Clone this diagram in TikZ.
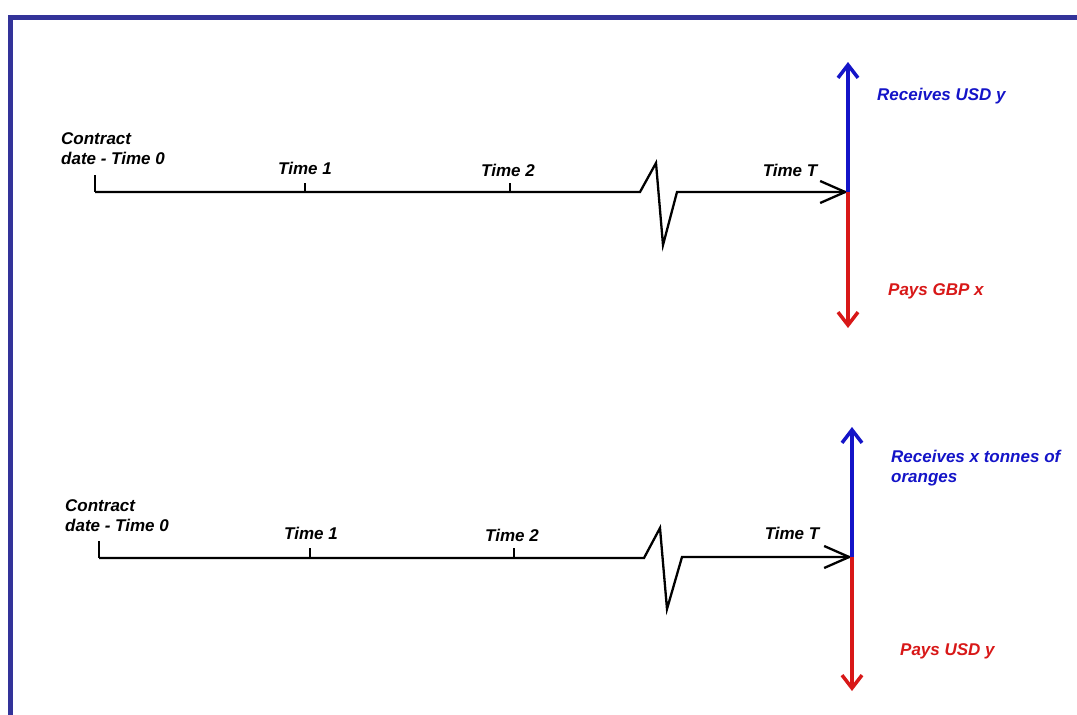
\documentclass[tikz,border=0pt]{standalone}
\usepackage{fontspec}
\setmainfont{Liberation Sans}
\usetikzlibrary{arrows.meta}
\definecolor{frameblue}{HTML}{333399}
\definecolor{posblue}{HTML}{1414C8}
\definecolor{negred}{HTML}{D81818}
\begin{document}
\begin{tikzpicture}[x=1pt,y=-1pt,
  lbl/.style={font=\fontsize{17}{20}\selectfont\bfseries\itshape, inner sep=0pt},
  timeline/.style={line width=2.3pt, line join=miter},
  ticks/.style={line width=1.2pt},
  endarrow/.style={-{Straight Barb[length=25pt,width=22pt,line width=2.3pt]}},
  cash/.style={line width=3.5pt, -{Straight Barb[length=13pt,width=20pt,line width=3.5pt]}}]
\useasboundingbox (0,0) rectangle (1077,715);
\fill[white] (0,0) rectangle (1077,715);
% frame
\fill[frameblue] (8,15) rectangle (1077,20);
\fill[frameblue] (8,15) rectangle (13,715);

% ---------- top timeline ----------
\coordinate (a0t) at (95,175);
\coordinate (a0) at (95,192);
\coordinate (a1t) at (305,183);
\coordinate (a1) at (305,192);
\coordinate (a2t) at (510,183);
\coordinate (a2) at (510,192);
\coordinate (az1) at (640,192);
\coordinate (az2) at (656,163);
\coordinate (az3) at (663,245);
\coordinate (az4) at (677,192);
\coordinate (aT) at (848,192);
\coordinate (aup) at (848,62);
\coordinate (adn) at (848,328);

\draw[ticks] (a0t) -- (a0);
\draw[ticks] (a1t) -- (a1);
\draw[ticks] (a2t) -- (a2);
\draw[timeline] (a0) -- (az1) -- (az2) -- (az3) -- (az4) -- (aT);
\draw[timeline, endarrow] (az4) -- (aT);
\draw[cash, posblue] (aT) -- (aup);
\draw[cash, negred] (aT) -- (adn);

\node[lbl, anchor=west, align=left] (ac) at (61,149) {Contract\\date - Time 0};
\node[lbl] (a1l) at (305,168) {Time 1};
\node[lbl] (a2l) at (508,170) {Time 2};
\node[lbl] (aTl) at (790,170) {Time T};
\node[lbl, anchor=west, text=posblue] (arec) at (877,96) {Receives USD y};
\node[lbl, anchor=west, text=negred] (apay) at (888,291) {Pays GBP x};

% ---------- bottom timeline ----------
\coordinate (b0t) at (99,541);
\coordinate (b0) at (99,558);
\coordinate (b1t) at (310,548);
\coordinate (b1) at (310,558);
\coordinate (b2t) at (514,548);
\coordinate (b2) at (514,558);
\coordinate (bz1) at (644,558);
\coordinate (bz2) at (660,528);
\coordinate (bz3) at (667,609);
\coordinate (bz4) at (682,557);
\coordinate (bT) at (852,557);
\coordinate (bup) at (852,427);
\coordinate (bdn) at (852,691);

\draw[ticks] (b0t) -- (b0);
\draw[ticks] (b1t) -- (b1);
\draw[ticks] (b2t) -- (b2);
\draw[timeline] (b0) -- (bz1) -- (bz2) -- (bz3) -- (bz4) -- (bT);
\draw[timeline, endarrow] (bz4) -- (bT);
\draw[cash, posblue] (bT) -- (bup);
\draw[cash, negred] (bT) -- (bdn);

\node[lbl, anchor=west, align=left] (bc) at (65,516) {Contract\\date - Time 0};
\node[lbl] (b1l) at (311,533) {Time 1};
\node[lbl] (b2l) at (512,535) {Time 2};
\node[lbl] (bTl) at (792,533) {Time T};
\node[lbl, anchor=west, align=left, text=posblue] (brec) at (891,468) {Receives x tonnes of\\oranges};
\node[lbl, anchor=west, text=negred] (bpay) at (900,651) {Pays USD y};
\end{tikzpicture}
\end{document}
